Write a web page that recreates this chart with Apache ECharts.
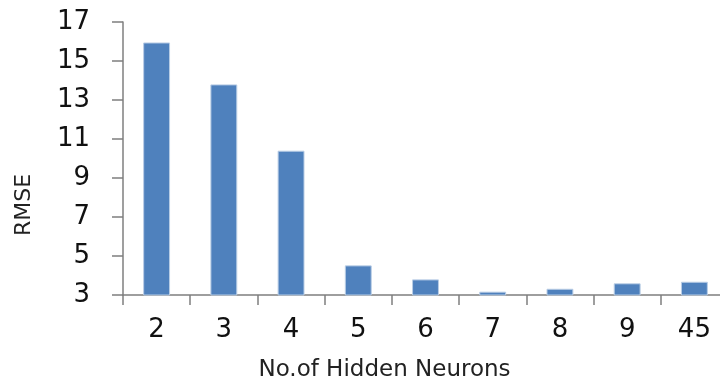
<!DOCTYPE html>
<html>
<head>
<meta charset="utf-8">
<script src="https://cdn.jsdelivr.net/npm/echarts@6/dist/echarts.min.js"></script>
<style>html,body{margin:0;padding:0;background:#fff}#c{width:720px;height:387px}</style>
</head>
<body>
<div id="c"></div>
<script>
var categories = ['2', '3', '4', '5', '6', '7', '8', '9', '45'];
var rmseValues = [15.95, 13.8, 10.4, 4.52, 3.8, 3.17, 3.32, 3.6, 3.68];
var yTicks = {min: 3, max: 17, interval: 2};
var xTitle = 'No.of Hidden Neurons';
var yTitle = 'RMSE';

var chart = echarts.init(document.getElementById('c'));
var axisColor = '#7f7f7f';
chart.setOption({
  animation: false,
  backgroundColor: '#ffffff',
  grid: {left: 123, top: 22, width: 605, bottom: 92, outerBoundsMode: 'none'},
  xAxis: {
    type: 'category',
    data: categories,
    boundaryGap: true,
    axisLine: {lineStyle: {color: axisColor, width: 1.5}},
    axisTick: {show: true, length: 10, lineStyle: {color: axisColor, width: 1.5}},
    axisLabel: {margin: 22, fontFamily: 'DejaVu Sans', fontSize: 26, color: '#111'},
    name: xTitle,
    nameLocation: 'middle',
    nameGap: 64,
    nameTextStyle: {fontFamily: 'DejaVu Sans', fontSize: 23, color: '#222', padding: [0, 82, 0, 0]}
  },
  yAxis: {
    type: 'value',
    min: yTicks.min, max: yTicks.max, interval: yTicks.interval,
    splitLine: {show: false},
    axisLine: {show: true, lineStyle: {color: axisColor, width: 1.5}},
    axisTick: {show: true, length: 11, lineStyle: {color: axisColor, width: 1.5}},
    axisLabel: {margin: 33, fontFamily: 'DejaVu Sans', fontSize: 26, color: '#111'},
    name: yTitle,
    nameLocation: 'middle',
    nameGap: 88,
    nameRotate: 90,
    nameTextStyle: {fontFamily: 'DejaVu Sans', fontSize: 22, color: '#222', padding: [0, 93, 0, 0]}
  },
  series: [{
    type: 'bar',
    data: rmseValues,
    barWidth: '40%',
    itemStyle: {color: '#4f81bd', borderColor: '#b9cde5', borderWidth: 1}
  }]
});
</script>
</body>
</html>
